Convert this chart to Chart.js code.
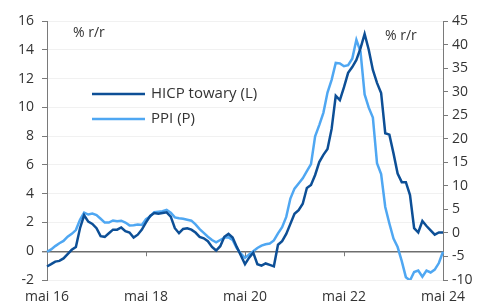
<!DOCTYPE html>
<html lang="pl">
<head>
    <meta charset="UTF-8">
    <title>HICP towary vs PPI</title>
    <script src="https://cdn.jsdelivr.net/npm/chart.js"></script>
    <style>
        body {
            margin: 0;
            background: #fff;
        }
        canvas {
            display: block;
        }
    </style>
</head>
<body>
    <canvas id="hicpChart" width="481" height="305"></canvas>

    <script>
        // monthly, May 2016 .. May 2024
        const hicpGoods = [
            -1.06, -0.9, -0.72, -0.67, -0.5, -0.2, 0.1, 0.3, 1.6, 2.5,
            2.06, 1.9, 1.6, 1.05, 1.0, 1.25, 1.5, 1.5, 1.65, 1.4,
            1.3, 0.95, 1.15, 1.5, 2.0, 2.45, 2.65, 2.6, 2.65, 2.7,
            2.4, 1.6, 1.25, 1.55, 1.6, 1.5, 1.3, 1.0, 0.9, 0.7,
            0.3, 0.05, 0.35, 1.0, 1.2, 0.95, 0.3, -0.3, -0.9, -0.45,
            -0.1, -0.9, -1.0, -0.85, -0.95, -1.05, 0.45, 0.7, 1.2, 1.9,
            2.6, 2.85, 3.3, 4.4, 4.6, 5.3, 6.2, 6.7, 7.1, 8.5,
            10.8, 10.5, 11.4, 12.4, 12.8, 13.3, 14.1, 15.1, 14.0, 12.6,
            11.7, 11.0, 8.2, 8.1, 6.8, 5.4, 4.8, 4.8, 3.9, 1.6,
            1.3, 2.1, 1.75, 1.45, 1.15, 1.3, 1.3
        ];
        const ppi = [
            -4.0, -3.5, -2.8, -2.2, -1.7, -0.8, -0.2, 0.6, 2.8, 4.3,
            3.9, 4.1, 3.8, 3.0, 2.2, 2.2, 2.65, 2.5, 2.6, 2.2,
            1.6, 1.65, 1.8, 1.7, 2.9, 3.5, 4.4, 4.5, 4.6, 4.9,
            4.3, 3.3, 3.1, 3.0, 2.8, 2.6, 1.8, 0.8, 0.0, -0.8,
            -1.5, -2.0, -1.5, -1.0, -0.95, -1.5, -3.2, -4.4, -5.3, -4.6,
            -3.9, -3.2, -2.7, -2.4, -2.25, -1.6, -0.1, 1.2, 3.4, 7.3,
            9.4, 10.5, 11.6, 13.1, 14.6, 20.5, 22.9, 25.5, 29.8, 32.5,
            36.1, 36.0, 35.4, 35.6, 37.0, 41.0, 38.5, 29.4, 26.6, 24.5,
            14.8, 12.5, 5.5, 2.0, -1.2, -3.0, -6.0, -9.4, -10.1, -8.3,
            -8.0, -9.3, -8.0, -8.4, -7.8, -6.4, -4.0
        ];
        const tickLabels = ['mai 16', 'mai 18', 'mai 20', 'mai 22', 'mai 24'];
        const seriesNames = ['HICP towary (L)', 'PPI (P)'];
        const unitLabel = '% r/r';

        // month categories
        const months = [];
        for (let i = 0; i < hicpGoods.length; i++) {
            const d = new Date(2016, 4 + i, 1);
            months.push(d.getFullYear() + '-' + String(d.getMonth() + 1).padStart(2, '0'));
        }

        const dark = '#0d4f96';
        const light = '#4fa7f2';
        const axisGrey = '#7a7a7a';
        const textCol = '#333';
        const font = "'Open Sans', sans-serif";

        Chart.defaults.font.family = font;
        Chart.defaults.font.size = 14;
        Chart.defaults.color = textCol;

        // legend, unit labels and small ticks on the zero line
        const extras = {
            id: 'extras',
            afterDraw(chart) {
                const c = chart.ctx;
                const a = chart.chartArea;
                const x = chart.scales.x;
                const y = chart.scales.y;

                c.save();
                const y0 = y.getPixelForValue(0);
                c.strokeStyle = axisGrey;
                c.lineWidth = 1;
                for (let i = 24; i < months.length - 1; i += 24) {
                    const px = Math.round(x.getPixelForValue(i)) + 0.5;
                    c.beginPath();
                    c.moveTo(px, y0);
                    c.lineTo(px, y0 + 5);
                    c.stroke();
                }

                c.font = '14px ' + font;
                c.fillStyle = textCol;
                c.textBaseline = 'middle';
                c.textAlign = 'left';
                c.fillText(unitLabel, a.left + 26, a.top + 12);
                c.fillText(unitLabel, a.right - 58, a.top + 15);

                const cols = [dark, light];
                seriesNames.forEach((name, k) => {
                    const ly = a.top + 73 + k * 25;
                    c.strokeStyle = cols[k];
                    c.lineWidth = 2.5;
                    c.beginPath();
                    c.moveTo(a.left + 45, ly);
                    c.lineTo(a.left + 98, ly);
                    c.stroke();
                    c.font = '15px ' + font;
                    c.fillText(name, a.left + 104, ly);
                });
                c.restore();
            }
        };

        const ctx = document.getElementById('hicpChart').getContext('2d');
        new Chart(ctx, {
            type: 'line',
            data: {
                labels: months,
                datasets: [
                    {
                        label: seriesNames[0],
                        data: hicpGoods,
                        yAxisID: 'y',
                        borderColor: dark,
                        borderWidth: 2.5,
                        pointRadius: 0,
                        tension: 0
                    },
                    {
                        label: seriesNames[1],
                        data: ppi,
                        yAxisID: 'y1',
                        borderColor: light,
                        borderWidth: 2.5,
                        pointRadius: 0,
                        tension: 0
                    }
                ]
            },
            options: {
                responsive: false,
                animation: false,
                devicePixelRatio: 1,
                layout: {
                    padding: { top: 21, left: 0, right: 0, bottom: 0 }
                },
                plugins: {
                    legend: { display: false },
                    tooltip: { enabled: false }
                },
                scales: {
                    x: {
                        type: 'category',
                        grid: { display: false, drawTicks: false },
                        border: { display: false },
                        ticks: {
                            autoSkip: false,
                            maxRotation: 0,
                            padding: 9,
                            callback: (v, i) => (i % 24 === 0 ? tickLabels[i / 24] : null)
                        },
                        afterFit: s => { s.height = 25; }
                    },
                    y: {
                        position: 'left',
                        min: -2,
                        max: 16,
                        ticks: { stepSize: 2, padding: 8 },
                        grid: {
                            color: c => (c.tick && c.tick.value === 0 ? '#6e6e6e' : '#f1f1f1'),
                            lineWidth: c => (c.tick && c.tick.value === 0 ? 1.4 : 1),
                            tickColor: axisGrey,
                            tickLength: 5
                        },
                        border: { display: true, color: axisGrey, width: 1 },
                        afterFit: s => { s.width = 47; }
                    },
                    y1: {
                        position: 'right',
                        min: -10,
                        max: 45,
                        ticks: { stepSize: 5, padding: 4 },
                        grid: {
                            drawOnChartArea: false,
                            tickColor: axisGrey,
                            tickLength: 5
                        },
                        border: { display: true, color: axisGrey, width: 1 },
                        afterFit: s => { s.width = 38; }
                    }
                }
            },
            plugins: [extras]
        });
    </script>
</body>
</html>
